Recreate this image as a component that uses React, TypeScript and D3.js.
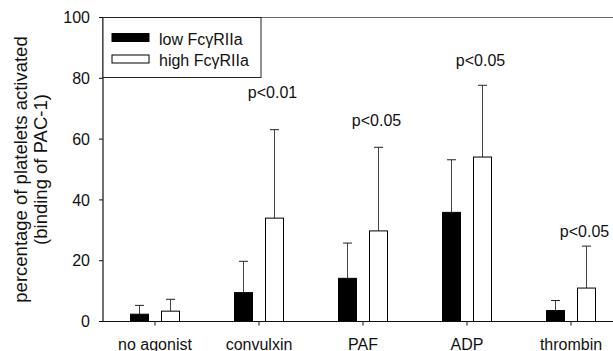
import React from "react";
import * as d3 from "d3";

const categories = ["no agonist", "convulxin", "PAF", "ADP", "thrombin"];
const seriesNames = ["low FcγRIIa", "high FcγRIIa"];
const lowValues = [2.4, 9.5, 14.2, 35.9, 3.6];
const lowErrors = [5.3, 19.8, 25.8, 53.2, 6.9];
const highValues = [3.4, 34.0, 29.8, 54.1, 11.0];
const highErrors = [7.3, 63.1, 57.3, 77.7, 24.8];
const yTicks = [0, 20, 40, 60, 80, 100];
const pLabels = ["", "p<0.01", "p<0.05", "p<0.05", "p<0.05"];
const pLabelLevels = [0, 73.6, 64.4, 84.2, 27.9];

const W = 613;
const H = 351;
const FONT = "Liberation Sans, Arial, sans-serif";

export default function App() {
  const left = 103;
  const top = 17.5;
  const bottom = 321.5;
  const x0 = d3.scaleBand<string>().domain(categories).range([left, left + 520]).padding(0);
  const x1 = d3.scaleBand<string>().domain(seriesNames).range([0, 50]).paddingInner(0.387).paddingOuter(0);
  const y = d3.scaleLinear().domain([0, 100]).range([bottom, top]);
  const groupOffset = (x0.bandwidth() - 50) / 2;
  const bw = x1.bandwidth();
  const cap = 9;
  const fs = 16;

  const series = [
    { name: seriesNames[0], values: lowValues, errors: lowErrors, fill: "#000" },
    { name: seriesNames[1], values: highValues, errors: highErrors, fill: "#fff" },
  ];

  return (
    <svg
      width={W}
      height={H}
      style={{ position: "fixed", left: 0, top: 0, display: "block", background: "#fff" }}
      fontFamily={FONT}
    >
      <rect x={0} y={0} width={W} height={H} fill="#fff" />
      <line x1={left} x2={W} y1={top} y2={top} stroke="#666" strokeWidth={1.2} />
      {series.map((s) =>
        categories.map((c, i) => {
          const bx = (x0(c) as number) + groupOffset + (x1(s.name) as number);
          const cx = bx + bw / 2;
          const yv = y(s.values[i]);
          const ye = y(s.errors[i]);
          return (
            <g key={s.name + c}>
              <line x1={cx} x2={cx} y1={yv} y2={ye} stroke="#444" strokeWidth={1} />
              <line x1={cx - cap / 2} x2={cx + cap / 2} y1={ye} y2={ye} stroke="#222" strokeWidth={1} />
              <rect
                x={bx + 0.5}
                y={yv}
                width={bw - 1}
                height={bottom - yv}
                fill={s.fill}
                stroke="#000"
                strokeWidth={1}
              />
            </g>
          );
        })
      )}
      {categories.map((c, i) =>
        pLabels[i] ? (
          <text
            key={"p" + c}
            x={(x0(c) as number) + groupOffset + (x1(seriesNames[1]) as number) + bw / 2 - 2}
            y={y(pLabelLevels[i])}
            textAnchor="middle"
            fontSize={fs}
            fill="#111"
          >
            {pLabels[i]}
          </text>
        ) : null
      )}
      <line x1={left} x2={left} y1={top} y2={bottom} stroke="#111" strokeWidth={1.2} />
      {yTicks.map((t) => (
        <g key={"yt" + t}>
          <line x1={left - 4} x2={left} y1={y(t)} y2={y(t)} stroke="#111" strokeWidth={1} />
          <text x={90} y={y(t)} dy="0.35em" textAnchor="end" fontSize={fs} fill="#111">
            {t}
          </text>
        </g>
      ))}
      <line x1={left} x2={W} y1={bottom} y2={bottom} stroke="#111" strokeWidth={1.2} />
      {categories.map((c) => {
        const cx = (x0(c) as number) + x0.bandwidth() / 2;
        return (
          <g key={"xt" + c}>
            <line x1={cx} x2={cx} y1={bottom} y2={bottom + 4} stroke="#111" strokeWidth={1} />
            <text x={cx} y={349.5} textAnchor="middle" fontSize={fs} fill="#111">
              {c}
            </text>
          </g>
        );
      })}
      <g transform={`translate(27,${(top + bottom) / 2}) rotate(-90)`}>
        <text x={0} y={0} textAnchor="middle" fontSize={18.5} fill="#111">
          percentage of platelets activated
        </text>
        <text x={0} y={20} textAnchor="middle" fontSize={18.5} fill="#111">
          (binding of PAC-1)
        </text>
      </g>
      <rect x={left} y={top} width={158} height={60} fill="#fff" stroke="#222" strokeWidth={1} />
      {series.map((s, i) => (
        <g key={"lg" + s.name}>
          <rect
            x={112}
            y={33.5 + i * 21.5}
            width={37}
            height={8}
            fill={s.fill}
            stroke="#000"
            strokeWidth={1}
          />
          <text x={159} y={44.5 + i * 21.5} fontSize={fs} fill="#111">
            {s.name}
          </text>
        </g>
      ))}
    </svg>
  );
}
